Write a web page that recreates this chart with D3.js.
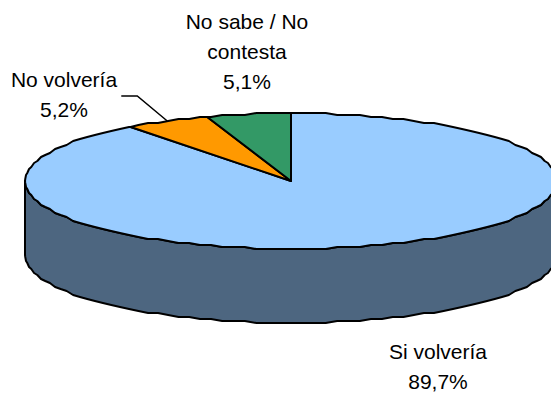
<!DOCTYPE html>
<html>
<head>
<meta charset="utf-8">
<script src="https://cdn.jsdelivr.net/npm/d3@7"></script>
<style>
  html, body { margin: 0; padding: 0; background: #fff; }
  svg { display: block; }
  text { font-family: "Liberation Sans", Arial, sans-serif; font-size: 21px; fill: #000; }
</style>
</head>
<body>
<svg id="chart" width="551" height="395"></svg>
<script>
const categories = ['Si volvería', 'No volvería', 'No sabe / No contesta'];
const values = [89.7, 5.2, 5.1];
const valueLabels = ['89,7%', '5,2%', '5,1%'];
const colors = ['#99ccff', '#ff9900', '#339966'];
const sideColor = '#4d6680';

const svg = d3.select('#chart');
const center = { x: 291, y: 181 };
const radius = { x: 266, y: 68 };
const depth = 74;
const step = Math.PI / 72;

// flattened circle, the pie is seen from above
// y goes to odd pixels only because the original outline is a bit jagged
const project = (angle, drop = 0) => [
  center.x + radius.x * Math.sin(angle),
  Math.round((center.y - radius.y * Math.cos(angle) - 1) / 2) * 2 + 1 + drop,
];

const rim = (start, end, drop = 0) => {
  const first = Math.ceil(start / step) * step;
  const points = [project(start, drop)];
  d3.range(first, end, step).forEach(a => points.push(project(a, drop)));
  points.push(project(end, drop));
  return points;
};

const line = d3.line();

// pie starts at 12 o'clock and goes clockwise
const arcs = d3.pie().sort(null)(values);

// side wall, front half of the rim
const front = rim(Math.PI / 2, (3 * Math.PI) / 2);
const frontLow = rim(Math.PI / 2, (3 * Math.PI) / 2, depth).reverse();
svg
  .append('path')
  .attr('d', line(front.concat(frontLow)) + 'Z')
  .attr('fill', sideColor)
  .attr('stroke', '#000')
  .attr('stroke-width', 2)
  .attr('stroke-linejoin', 'round');

svg
  .append('g')
  .selectAll('path')
  .data(arcs)
  .enter()
  .append('path')
  .attr('d', d => line([[center.x, center.y]].concat(rim(d.startAngle, d.endAngle))) + 'Z')
  .attr('fill', (d, i) => colors[i])
  .attr('stroke', '#000')
  .attr('stroke-width', 2)
  .attr('stroke-linejoin', 'round');

// leader for the No volvería label
const orange = arcs[1];
const leaderEnd = project((orange.startAngle + orange.endAngle) / 2);
svg
  .append('path')
  .attr('d', line([
    [leaderEnd[0] - 46, leaderEnd[1] - 25],
    [leaderEnd[0] - 30, leaderEnd[1] - 25],
    leaderEnd,
  ]))
  .attr('fill', 'none')
  .attr('stroke', '#000')
  .attr('stroke-width', 1.5);

const labels = [
  { x: 438, y: 359, lines: ['Si volvería', valueLabels[0]] },
  { x: 64, y: 87, lines: ['No volvería', valueLabels[1]] },
  { x: 247, y: 29, lines: ['No sabe / No', 'contesta', valueLabels[2]] },
];

labels.forEach(label => {
  const text = svg
    .append('text')
    .attr('text-anchor', 'middle');
  label.lines.forEach((t, i) => {
    text
      .append('tspan')
      .attr('x', label.x)
      .attr('y', label.y + i * 30)
      .text(t);
  });
});
</script>
</body>
</html>
